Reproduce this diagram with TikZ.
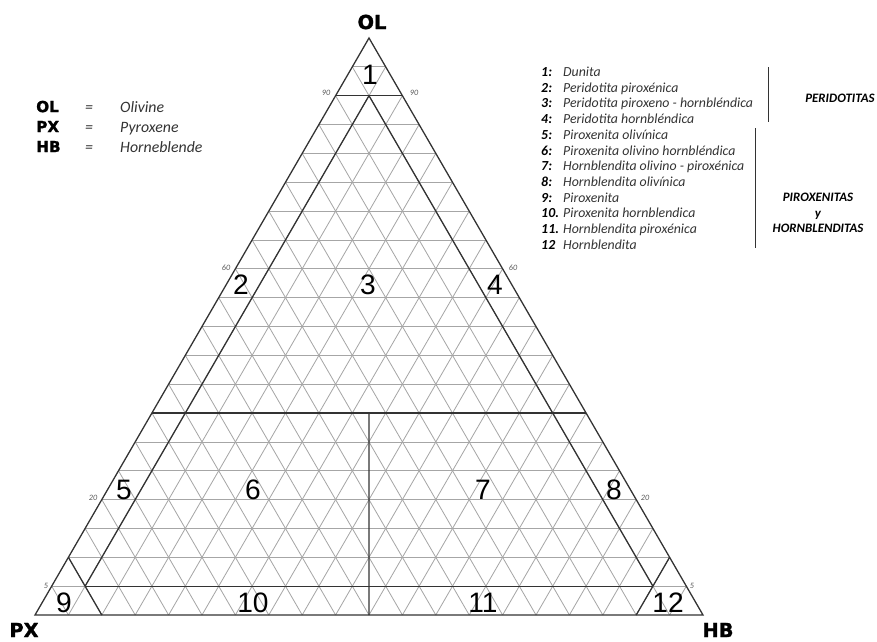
\documentclass[tikz,border=0pt]{standalone}
\usepackage{fontspec}
\setmainfont{Carlito}
\newfontfamily\arialfont{Liberation Sans}
\newfontfamily\heavyfont{DejaVu Sans Bold}[FakeBold=1.5]
\usetikzlibrary{positioning}

\begin{document}
\begin{tikzpicture}[
  x=0.03cm, y=-0.03cm,
  gridline/.style={draw=gray!70, line width=0.7pt},
  zoneline/.style={draw=black!80, line width=1.1pt},
  zone/.style={font=\arialfont\fontsize{24}{24}\selectfont, inner sep=0},
  tick/.style={font=\itshape\fontsize{7}{7}\selectfont, text=gray!70!black, inner sep=0},
  corner/.style={font=\heavyfont\fontsize{16.5}{16.5}\selectfont, inner sep=0},
  key/.style={font=\heavyfont\fontsize{13}{13}\selectfont, anchor=west, inner sep=0,
    text height=9pt, text depth=2pt},
  keytext/.style={font=\itshape\fontsize{13.5}{13.5}\selectfont, text=black!80, anchor=west,
    inner sep=0, text height=9pt, text depth=2pt},
  item/.style={font=\itshape\fontsize{11.8}{11.8}\selectfont, text=black!80, anchor=west,
    inner sep=0, text height=8pt, text depth=2pt},
  itemno/.style={item, font=\bfseries\itshape\fontsize{11.8}{11.8}\selectfont, text=black},
  group/.style={font=\bfseries\itshape\fontsize{11}{13}\selectfont, align=center, inner sep=0},
]
\useasboundingbox (0,0) rectangle (877,641);

% vertices of the ternary plot
\coordinate (ol) at (369,38);
\coordinate (px) at (35,615);
\coordinate (hb) at (703,615);

% 5 % grid in the three directions
\foreach \i in {1,...,19}{
  \pgfmathsetmacro{\f}{\i/20}
  \pgfmathsetmacro{\g}{1-\f}
  \draw[gridline] (barycentric cs:ol=\f,px=\g) -- (barycentric cs:ol=\f,hb=\g);
  \draw[gridline] (barycentric cs:hb=\f,px=\g) -- (barycentric cs:hb=\f,ol=\g);
  \draw[gridline] (barycentric cs:px=\f,ol=\g) -- (barycentric cs:px=\f,hb=\g);
}

% field boundaries
\draw[zoneline] (barycentric cs:ol=.9,px=.1) -- (barycentric cs:ol=.9,hb=.1);
\draw[zoneline] (barycentric cs:ol=.35,px=.65) -- (barycentric cs:ol=.35,hb=.65);
\draw[zoneline] (barycentric cs:ol=.35,px=.325,hb=.325) -- (barycentric cs:px=.5,hb=.5);
\draw[zoneline] (barycentric cs:ol=.9,px=.05,hb=.05) -- (barycentric cs:ol=.05,px=.9,hb=.05);
\draw[zoneline] (barycentric cs:ol=.9,px=.05,hb=.05) -- (barycentric cs:ol=.05,px=.05,hb=.9);
\draw[zoneline] (barycentric cs:ol=.05,px=.9,hb=.05) -- (barycentric cs:ol=.05,px=.05,hb=.9);
\draw[zoneline] (barycentric cs:px=.9,ol=.1) -- (barycentric cs:px=.9,hb=.1);
\draw[zoneline] (barycentric cs:hb=.9,ol=.1) -- (barycentric cs:hb=.9,px=.1);

% outline
\draw[zoneline, line join=miter] (ol) -- (px) -- (hb) -- cycle;

% corner names
\node[corner] (olname) at (372,22)  {OL};
\node[corner] (pxname) at (24,630)  {PX};
\node[corner] (hbname) at (718,630) {HB};

% side values
\node[tick] (t90l) at (326,93)  {90};
\node[tick] (t90r) at (414,93)  {90};
\node[tick] (t60l) at (226,268) {60};
\node[tick] (t60r) at (513,268) {60};
\node[tick] (t20l) at (93,498)  {20};
\node[tick] (t20r) at (645,498) {20};
\node[tick] (t5l)  at (46,586)  {5};
\node[tick] (t5r)  at (692,586) {5};

% field numbers
\node[zone] (z1)  at (370,75)  {1};
\node[zone] (z2)  at (241,285) {2};
\node[zone] (z3)  at (368,285) {3};
\node[zone] (z4)  at (495,285) {4};
\node[zone] (z5)  at (124,490) {5};
\node[zone] (z6)  at (253,490) {6};
\node[zone] (z7)  at (483,490) {7};
\node[zone] (z8)  at (614,490) {8};
\node[zone] (z9)  at (64,603)  {9};
\node[zone] (z10) at (253,603) {10};
\node[zone] (z11) at (483,603) {11};
\node[zone] (z12) at (668,603) {12};

% mineral key
\node[key] (kol) at (36,108) {OL};
\node[key] (kpx) at (36,128) {PX};
\node[key] (khb) at (36,148) {HB};
\foreach \k/\txt in {kol/Olivine, kpx/Pyroxene, khb/Horneblende}{
  \node[keytext] at (85,0 |- \k) {=};
  \node[keytext] at (120,0 |- \k) {\txt};
}

% rock names
\foreach \lbl/\txt [count=\j] in {
  1:/Dunita,
  2:/Peridotita piroxénica,
  3:/Peridotita piroxeno - hornbléndica,
  4:/Peridotita hornbléndica,
  5:/Piroxenita olivínica,
  6:/Piroxenita olivino hornbléndica,
  7:/Hornblendita olivino - piroxénica,
  8:/Hornblendita olivínica,
  9:/Piroxenita,
  10./Piroxenita hornblendica,
  11./Hornblendita piroxénica,
  12/Hornblendita}{
  \node[itemno] (n\j) at (541,{73+15.7*(\j-1)}) {\lbl};
  \node[item] (r\j) at (563,{73+15.7*(\j-1)}) {\txt};
}
\draw[line width=0.8pt, black!80] (768,67) -- (768,122);
\draw[line width=0.8pt, black!80] (755,128) -- (755,248);
\node[group] (peri) at (840,98) {PERIDOTITAS};
\node[group] (pirox) at (818,213) {PIROXENITAS\\y\\HORNBLENDITAS};

\end{tikzpicture}
\end{document}
